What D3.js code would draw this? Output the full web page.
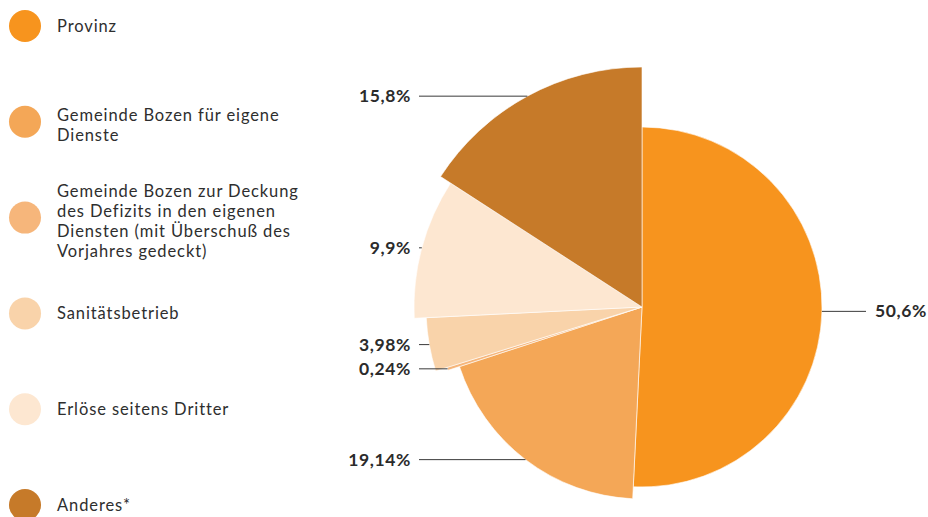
<!DOCTYPE html>
<html>
<head>
<meta charset="utf-8">
<script src="https://cdn.jsdelivr.net/npm/d3@7"></script>
<style>
  html, body { margin: 0; padding: 0; background: #fff; }
  svg { display: block; }
</style>
</head>
<body>
<svg id="chart" width="928" height="517"></svg>
<script>
// ---- data ----
const categories = [
  "Provinz",
  "Gemeinde Bozen für eigene\nDienste",
  "Gemeinde Bozen zur Deckung\ndes Defizits in den eigenen\nDiensten (mit Überschuß des\nVorjahres gedeckt)",
  "Sanitätsbetrieb",
  "Erlöse seitens Dritter",
  "Anderes*"
];
const values = [50.6, 19.14, 0.24, 3.98, 9.9, 15.8];
const valueLabels = ["50,6%", "19,14%", "0,24%", "3,98%", "9,9%", "15,8%"];
const palette = ["#F7941E", "#F4A757", "#F6B67B", "#F9D3AA", "#FDE7D1", "#C67A29"];

// ---- layout ----
const svg = d3.select("#chart");
const cx = 642, cy = 307;
const font = "Lato, 'Open Sans', sans-serif";

const idx = d3.range(values.length);
const rScale = d3.scaleLinear().domain([0, values.length - 1]).range([180, 240]);
const color = d3.scaleOrdinal().domain(idx).range(palette);

const pie = d3.pie().sort(null).value(i => values[i]);
const arcs = pie(idx);
const arc = d3.arc().innerRadius(0).outerRadius(d => rScale(d.data));

const g = svg.append("g").attr("transform", `translate(${cx},${cy})`);
g.selectAll("path.slice").data(arcs).join("path")
  .attr("class", "slice")
  .attr("d", arc)
  .attr("fill", d => color(d.data))
  .attr("stroke", "#fff")
  .attr("stroke-width", 0.6);

// ---- value labels with leader lines ----
const leftLineEnd = 419, leftTextX = 411;
const rightLineEnd = 866, rightTextX = 875;
const lab = svg.append("g");
arcs.forEach(d => {
  const a = (d.startAngle + d.endAngle) / 2;
  const r = rScale(d.data);
  const px = cx + r * Math.sin(a);
  const py = cy - r * Math.cos(a);
  const left = px < cx;
  lab.append("line")
    .attr("x1", px).attr("y1", py)
    .attr("x2", left ? leftLineEnd : rightLineEnd).attr("y2", py)
    .attr("stroke", "#3a3a3a").attr("stroke-width", 1);
  lab.append("text")
    .attr("x", left ? leftTextX : rightTextX)
    .attr("y", py + 6)
    .attr("text-anchor", left ? "end" : "start")
    .attr("font-family", font)
    .attr("font-weight", 700)
    .attr("font-size", 17.5)
    .attr("letter-spacing", 0.6)
    .attr("fill", "#2b2b2b")
    .text(valueLabels[d.data]);
});

// ---- legend ----
const legendY = d3.scaleLinear().domain([0, values.length - 1]).range([26, 505]);
const leg = svg.append("g");
idx.forEach(i => {
  const y = legendY(i);
  leg.append("circle").attr("cx", 25).attr("cy", y).attr("r", 16).attr("fill", color(i));
  const lines = categories[i].split("\n");
  const n = lines.length;
  const lh = 19.8;
  lines.forEach((ln, k) => {
    leg.append("text")
      .attr("font-family", font)
      .attr("font-size", 16.5)
      .attr("letter-spacing", 0.9)
      .attr("fill", "#2e2e2e")
      .attr("x", 57)
      .attr("y", y + 6 + (k - (n - 1) / 2) * lh + (n > 1 ? 3.5 : 0))
      .text(ln);
  });
});
</script>
</body>
</html>
